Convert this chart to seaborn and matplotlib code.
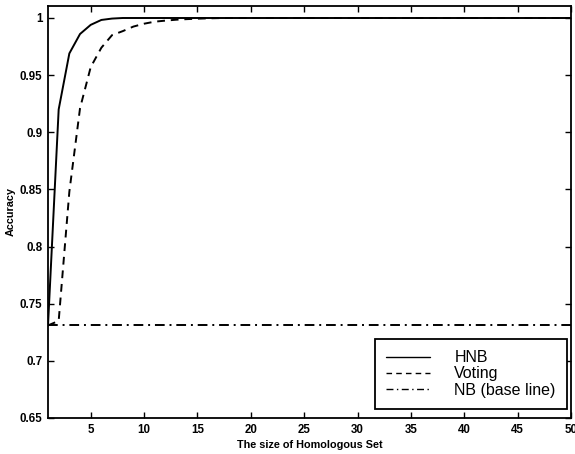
import numpy as np
import pandas as pd
import matplotlib
matplotlib.use("Agg")
import matplotlib.pyplot as plt
import seaborn as sns
from matplotlib.ticker import FixedLocator, FixedFormatter

# Accuracy versus size of the homologous set
hnb_sizes = [1, 2, 3, 4, 5, 6, 7, 8, 50]
hnb_acc = [0.731, 0.920, 0.969, 0.986, 0.994, 0.9983, 0.9995, 1.0, 1.0]

voting_sizes = [1, 2, 3, 4, 5, 6, 7, 8, 9, 10, 11, 12, 13, 14, 15, 16, 17, 18, 50]
voting_acc = [0.731, 0.735, 0.848, 0.921, 0.957, 0.974, 0.985, 0.9885, 0.9925,
              0.995, 0.9968, 0.9977, 0.9985, 0.999, 0.9994, 0.9997, 0.9999, 1.0, 1.0]

nb_sizes = [1, 50]
nb_acc = [0.731, 0.731]

series_names = ["HNB", "Voting", "NB (base line)"]

x_ticks = [5, 10, 15, 20, 25, 30, 35, 40, 45, 50]
y_ticks = [0.65, 0.70, 0.75, 0.80, 0.85, 0.90, 0.95, 1.00]
y_tick_labels = ["0.65", "0.7", "0.75", "0.8", "0.85", "0.9", "0.95", "1"]

frames = []
for name, xs, ys in zip(series_names,
                        [hnb_sizes, voting_sizes, nb_sizes],
                        [hnb_acc, voting_acc, nb_acc]):
    frames.append(pd.DataFrame({"size": xs, "acc": ys, "method": name}))
df = pd.concat(frames, ignore_index=True)

sns.set_theme(style="white")
plt.rcParams["font.family"] = ["Liberation Sans", "DejaVu Sans"]

fig = plt.figure(figsize=(5.75, 4.54), dpi=100)
ax = fig.add_axes([48 / 575, 1 - 418 / 454, (571 - 48) / 575, (418 - 6) / 454])

sns.lineplot(data=df, x="size", y="acc", hue="method", style="method",
             hue_order=series_names, style_order=series_names,
             palette=["black"] * 3,
             dashes={"HNB": "", "Voting": (4, 3), "NB (base line)": (5, 2.5, 1, 2.5)},
             linewidth=1.4, ax=ax, legend=True, estimator=None, sort=False)

ax.set_xlim(1, 50)
ax.set_ylim(0.65, 1.0105)
ax.xaxis.set_major_locator(FixedLocator(x_ticks))
ax.yaxis.set_major_locator(FixedLocator(y_ticks))
ax.yaxis.set_major_formatter(FixedFormatter(y_tick_labels))

for s in ax.spines.values():
    s.set_color("black")
    s.set_linewidth(1.3)

ax.tick_params(direction="in", length=4, width=1, colors="black",
               top=True, right=True, bottom=True, left=True,
               labelsize=8.3, pad=4)
for lab in ax.get_xticklabels() + ax.get_yticklabels():
    lab.set_fontweight("bold")

ax.set_xlabel("The size of Homologous Set", fontsize=7.8, fontweight="bold",
              color="black", labelpad=3)
ax.set_ylabel("Accuracy", fontsize=7.8, fontweight="bold", color="black",
              labelpad=3)

leg = ax.legend(loc="lower right", bbox_to_anchor=(0.992, 0.022),
                borderaxespad=0, fontsize=11.5, frameon=True, fancybox=False,
                framealpha=1, edgecolor="black", handlelength=2.75,
                handletextpad=1.5, labelspacing=0.08, borderpad=0.7)
leg.get_frame().set_linewidth(1.3)
for h in leg.get_lines():
    h.set_linewidth(1.0)
for t in leg.get_texts():
    t.set_color("black")

fig.savefig("out.png", dpi=100, facecolor="white")
